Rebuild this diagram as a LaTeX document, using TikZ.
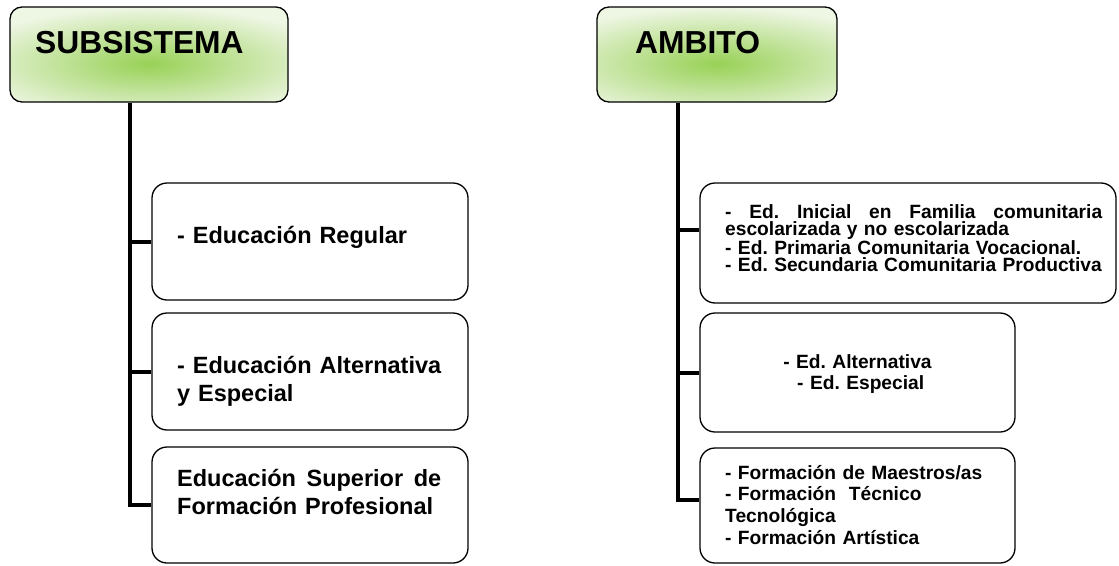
\documentclass[tikz,border=0pt]{standalone}
\usepackage{fontspec}
\setmainfont{Liberation Sans}

\definecolor{headfill}{RGB}{238,246,228}
\definecolor{headglow}{RGB}{152,209,86}

\tikzset{
	head/.style={draw, line width=1.3pt, rounded corners=12pt, fill=headfill,
		minimum height=95pt, inner sep=0pt,
		path picture={\shade[inner color=headglow, outer color=headfill]
			([yshift=-10pt]path picture bounding box.center) ellipse (190pt and 56pt);}},
	box/.style={draw, line width=1.3pt, rounded corners=15pt, inner sep=0pt},
	conn/.style={line width=4pt},
	bigtxt/.style={font=\fontsize{31.8}{37}\selectfont\bfseries, anchor=base west, inner sep=0pt},
	ltxt/.style={font=\fontsize{23.5}{28.5}\selectfont\bfseries\frenchspacing, anchor=base west,
		inner sep=0pt, text width=264pt, align=left},
	rtxt/.style={font=\fontsize{19.2}{21.7}\selectfont\bfseries\frenchspacing, anchor=base west,
		inner sep=0pt, text width=290pt, align=left},
}

\begin{document}
\begin{tikzpicture}[x=1pt, y=-1pt]
	\useasboundingbox (0,0) rectangle (1119,565);

	% headers
	\node[head, minimum width=278pt] (hsub) at (149,54.5) {};
	\node[bigtxt] (tsub) at (35,53) {SUBSISTEMA};
	\node[head, minimum width=240pt] (hamb) at (717,54.5) {};
	\node[bigtxt] (tamb) at (635,53) {AMBITO};

	% left column
	\node[box, minimum width=316pt, minimum height=117pt] (sub1) at (310,241.5) {};
	\node[box, minimum width=316pt, minimum height=117pt] (sub2) at (310,371.5) {};
	\node[box, minimum width=316pt, minimum height=116pt] (sub3) at (310,505) {};
	\node[ltxt] (l1) at (177,243) {- Educación Regular};
	\node[ltxt] (l2) at (177,373) {\hbox to 264pt{- Educación\hfill Alternativa}\\y Especial};
	\node[ltxt] (l3) at (177,486) {\hbox to 264pt{Educación\hfill Superior\hfill de}\\Formación Profesional};

	% right column
	\node[box, minimum width=416pt, minimum height=120pt] (amb1) at (908,243) {};
	\node[box, minimum width=315pt, minimum height=119pt] (amb2) at (857.5,372.5) {};
	\node[box, minimum width=315pt, minimum height=115pt] (amb3) at (857.5,505.5) {};
	\node[rtxt, font=\fontsize{19.2}{17.3}\selectfont\bfseries\frenchspacing, text width=377pt] (r1) at (725,218)
		{\hbox to 377pt{-\hfill Ed.\hfill Inicial\hfill en\hfill Familia\hfill comunitaria}\\escolarizada y no escolarizada\\- Ed. Primaria Comunitaria Vocacional.\\- Ed. Secundaria Comunitaria Productiva};
	\node[rtxt, font=\fontsize{19.2}{21}\selectfont\bfseries\frenchspacing, align=center, anchor=base,
		text width=300pt] (r2) at (857.5,368) {- Ed. Alternativa\\\ - Ed. Especial};
	\node[rtxt] (r3) at (725,479)
		{- Formación de Maestros/as\\- Formación\ \ Técnico\\Tecnológica\\- Formación Artística};

	% connectors
	\coordinate (ltrunk) at ([xshift=-19pt]hsub.south);
	\draw[conn] (ltrunk) |- (sub3.west);
	\draw[conn] (sub1.west) -- (sub1.west -| ltrunk);
	\draw[conn] (sub2.west) -- (sub2.west -| ltrunk);

	\coordinate (rtrunk) at ([xshift=-39pt]hamb.south);
	\draw[conn] (rtrunk) |- ([yshift=5.5pt]amb3.west);
	\draw[conn] ([yshift=13pt]amb1.west) -- ([yshift=13pt]amb1.west -| rtrunk);
	\draw[conn] (amb2.west) -- (amb2.west -| rtrunk);
\end{tikzpicture}
\end{document}
